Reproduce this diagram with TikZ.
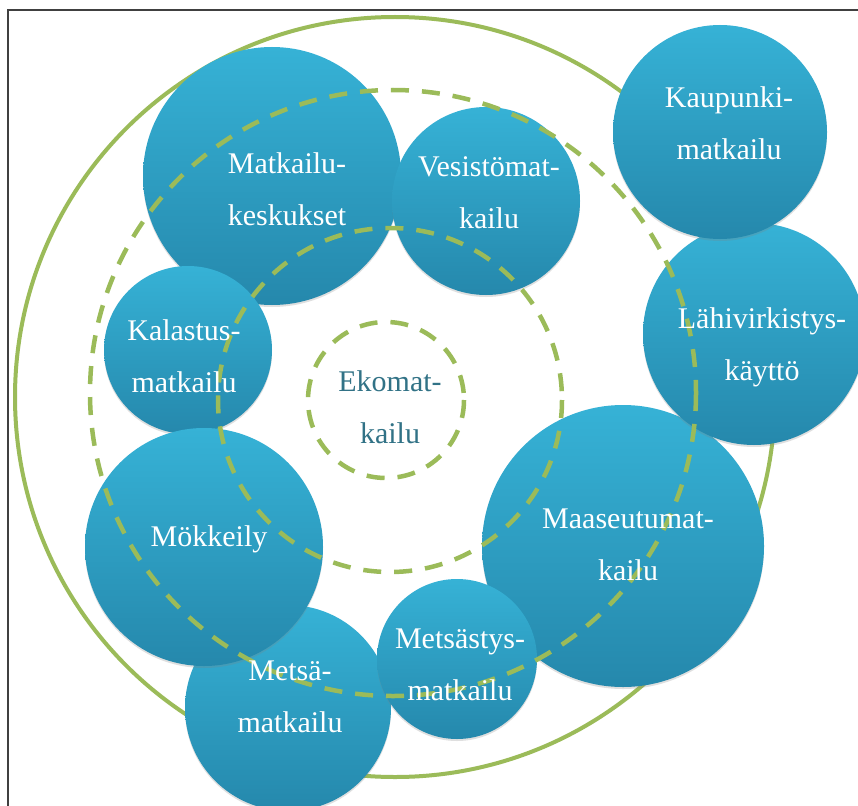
\documentclass[tikz,border=0pt]{standalone}
\usepackage{fontspec}
\setmainfont{Liberation Serif}
\usetikzlibrary{shadows}
\definecolor{ringgreen}{RGB}{155,187,89}
\definecolor{bubbletop}{RGB}{54,178,214}
\definecolor{bubblebot}{RGB}{37,136,172}
\definecolor{ekoteal}{RGB}{49,114,134}
\begin{document}
\begin{tikzpicture}[x=1pt,y=-1pt,
    bubble/.style={circle, inner sep=0, top color=bubbletop, bottom color=bubblebot,
        drop shadow={shadow xshift=0pt, shadow yshift=-2pt, opacity=0.25}},
    ring/.style={draw=ringgreen, line width=4pt},
    dashring/.style={draw=ringgreen, line width=4.5pt, dash pattern=on 18pt off 13pt},
    bubbletext/.style={align=center, text=white, inner sep=0, anchor=base,
        font=\fontsize{30}{52}\selectfont}]
    \useasboundingbox (0,0) rectangle (858,805);
    \clip (0,0) rectangle (858,805);
    \fill[white] (0,0) rectangle (858,805);
    % frame
    \draw[black!75, line width=1.2pt] (8,10) rectangle (880,830);
    % outer ring
    \draw[ring] (395,397) circle (380);
    % bubbles, back to front
    \foreach \nm/\cx/\cy/\r in {matk/272/176/129, vesi/486/201/94, kala/188/350/84,
        mets/288/708/103, mokk/204/547/119, maas/623/546/141, metsa/457/659/80,
        lahi/754/334/111, kaup/720/132/107}
    {
        \node[bubble, minimum size=2*\r] (\nm) at (\cx,\cy) {};
    }
    % dashed rings on top
    \draw[dashring] (393,393) circle (303);
    \draw[dashring] (390,400) circle (172);
    \draw[dashring] (386,400) circle (78);
    % labels (base = last line)
    \node[bubbletext] (matk-l) at (287,225) {Matkailu-\\keskukset};
    \node[bubbletext] (vesi-l) at (489,228) {Vesistömat-\\kailu};
    \node[bubbletext] (kaup-l) at (729,160) {Kaupunki-\\matkailu};
    \node[bubbletext] (lahi-l) at (762,380) {Lähivirkistys-\\käyttö};
    \node[bubbletext] (kala-l) at (184,392) {Kalastus-\\matkailu};
    \node[bubbletext, text=ekoteal] (eko-l) at (390,443) {Ekomat-\\kailu};
    \node[bubbletext] (mokk-l) at (209,546) {Mökkeily};
    \node[bubbletext] (mets-l) at (290,732) {Metsä-\\matkailu};
    \node[bubbletext] (metsa-l) at (460,700) {Metsästys-\\matkailu};
    \node[bubbletext] (maas-l) at (628,580) {Maaseutumat-\\kailu};
\end{tikzpicture}
\end{document}
